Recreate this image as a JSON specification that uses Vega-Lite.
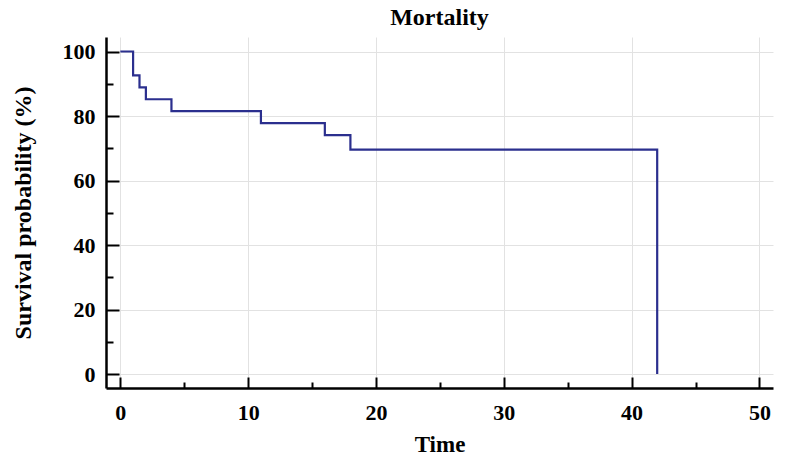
{
  "$schema": "https://vega.github.io/schema/vega-lite/v6.json",
  "width": 667,
  "height": 351,
  "autosize": "none",
  "padding": {"left": 106, "top": 37, "right": 27, "bottom": 72},
  "background": "white",
  "config": {
    "view": {"stroke": null},
    "font": "Liberation Serif",
    "axis": {"labelFont": "Liberation Serif", "titleFont": "Liberation Serif", "labelFontWeight": "bold", "titleFontWeight": "bold", "labelColor": "black", "titleColor": "black"}
  },
  "title": {"text": "Mortality", "font": "Liberation Serif", "fontSize": 24, "fontWeight": "bold", "color": "black", "anchor": "middle", "offset": 7},
  "data": {
    "values": [
      {"time": 0, "surv": 100},
      {"time": 1, "surv": 92.6},
      {"time": 1.5, "surv": 88.9},
      {"time": 2, "surv": 85.2},
      {"time": 4, "surv": 81.5},
      {"time": 11, "surv": 77.8},
      {"time": 16, "surv": 74.1},
      {"time": 18, "surv": 69.6},
      {"time": 42, "surv": 0}
    ]
  },
  "mark": {"type": "line", "interpolate": "step-after", "color": "#2b2f8e", "strokeWidth": 2.2},
  "encoding": {
    "x": {
      "field": "time", "type": "quantitative", "title": "Time",
      "scale": {"domain": [-1.12, 51.06], "nice": false, "zero": false},
      "axis": {
        "values": [0, 5, 10, 15, 20, 25, 30, 35, 40, 45, 50],
        "labelExpr": "datum.value % 10 === 0 ? datum.label : ''",
        "grid": true,
        "gridColor": "#e2e2e2",
        "gridOpacity": {"condition": {"test": "datum.value % 10 === 0", "value": 1}, "value": 0},
        "domainColor": "black", "domainWidth": 2.5,
        "tickColor": "black", "tickWidth": 2,
        "tickSize": {"condition": {"test": "datum.value % 10 === 0", "value": -11}, "value": -6},
        "labelFontSize": 22, "labelPadding": 25,
        "titleFontSize": 23, "titlePadding": 10,
        "labelFlush": false
      }
    },
    "y": {
      "field": "surv", "type": "quantitative", "title": "Survival probability (%)",
      "scale": {"domain": [-4.34, 104.5], "nice": false, "zero": false},
      "axis": {
        "values": [0, 10, 20, 30, 40, 50, 60, 70, 80, 90, 100],
        "labelExpr": "datum.value % 20 === 0 ? datum.label : ''",
        "grid": true,
        "gridColor": "#e2e2e2",
        "gridOpacity": {"condition": {"test": "datum.value % 20 === 0", "value": 1}, "value": 0},
        "domainColor": "black", "domainWidth": 2.5,
        "tickColor": "black", "tickWidth": 2,
        "tickSize": {"condition": {"test": "datum.value % 20 === 0", "value": -13}, "value": -7},
        "labelFontSize": 22, "labelPadding": 24,
        "titleFontSize": 24, "titlePadding": 27,
        "labelFlush": false
      }
    }
  }
}
